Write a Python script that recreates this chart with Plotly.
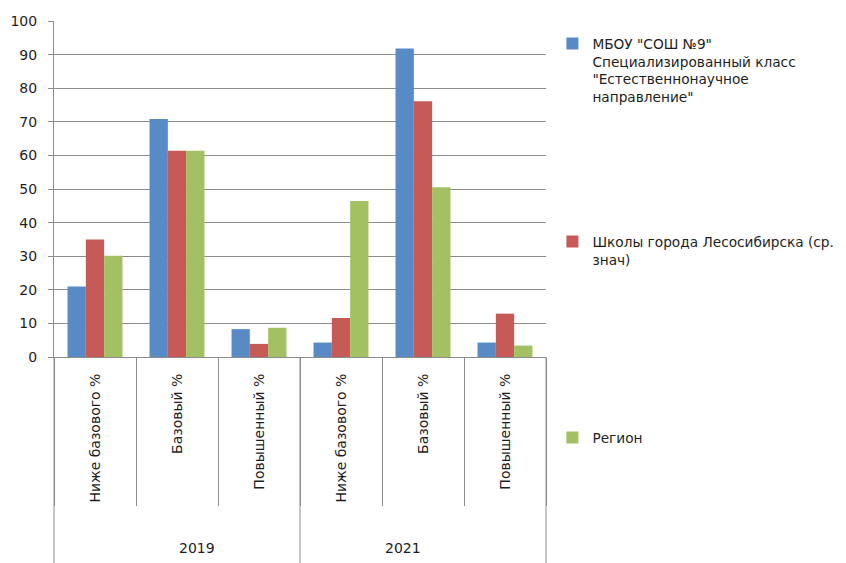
import plotly.graph_objects as go

years = ["2019", "2019", "2019", "2021", "2021", "2021"]
levels = ["Ниже базового %", "Базовый %", "Повышенный %",
          "Ниже базового %", "Базовый %", "Повышенный %"]
year_labels = ["2019", "2021"]

school = [21.0, 70.8, 8.3, 4.3, 91.8, 4.3]
city = [35.0, 61.4, 3.9, 11.6, 76.1, 12.9]
region = [30.1, 61.4, 8.7, 46.4, 50.5, 3.4]

names = ['МБОУ "СОШ №9"<br>Специализированный класс<br>"Естественнонаучное<br>направление"',
         'Школы города Лесосибирска (ср.<br>знач)',
         'Регион']
colors = ["#588AC6", "#C55A57", "#A3C062"]
legends = ["legend", "legend2", "legend3"]

FONT = "DejaVu Sans"
GRAY = "#8c8c8c"
TXT = "#1e1e1e"

keys = [f"{y}|{l}" for y, l in zip(years, levels)]

fig = go.Figure()
for vals, nm, col, lg in zip([school, city, region], names, colors, legends):
    fig.add_trace(go.Bar(x=keys, y=vals, name=nm,
                         marker=dict(color=col, line=dict(width=0)),
                         legend=lg, showlegend=True))

# year group dividers and labels (paper coordinates of the axis structure)
n_groups = len(year_labels)
for i in range(n_groups + 1):
    fig.add_shape(type="line", xref="paper", yref="paper",
                  x0=i / n_groups, x1=i / n_groups, y0=0, y1=-0.66,
                  line=dict(color=GRAY, width=1))
for i, yl in enumerate(year_labels):
    fig.add_annotation(xref="paper", yref="paper", x=(i + 0.5) / n_groups,
                       y=-0.568, text=yl, showarrow=False,
                       font=dict(family=FONT, size=14, color=TXT),
                       yanchor="middle")

leg_common = dict(xref="container", yref="container", x=0.6435, xanchor="left",
                  yanchor="top", valign="top",
                  font=dict(family=FONT, size=13.7, color=TXT),
                  bgcolor="rgba(0,0,0,0)", itemclick=False)

fig.update_layout(
    width=846, height=563,
    margin=dict(l=46, r=308, t=13, b=214, autoexpand=False),
    paper_bgcolor="white", plot_bgcolor="white",
    font=dict(family=FONT, size=14, color=TXT),
    showlegend=True,
    barmode="group", bargap=0.33, bargroupgap=0,
    legend=dict(y=1 - 20 / 563, **leg_common),
    legend2=dict(y=1 - 218 / 563, **leg_common),
    legend3=dict(y=1 - 414 / 563, **leg_common),
    xaxis=dict(type="category", tickvals=keys, ticktext=levels,
               tickangle=-90, ticks="outside",
               tickson="boundaries", ticklen=148, tickcolor=GRAY,
               showline=True, linecolor=GRAY, showgrid=False,
               automargin=False, ticklabelstandoff=10,
               tickfont=dict(family=FONT, size=14, color=TXT)),
    yaxis=dict(range=[0, 100], dtick=10, ticks="outside", ticklen=5,
               tickcolor=GRAY, showline=True, linecolor=GRAY,
               showgrid=True, gridcolor=GRAY, gridwidth=1,
               zeroline=False, ticklabelstandoff=8, automargin=False,
               tickfont=dict(family=FONT, size=14, color=TXT)),
)

fig.write_html("out.html")
